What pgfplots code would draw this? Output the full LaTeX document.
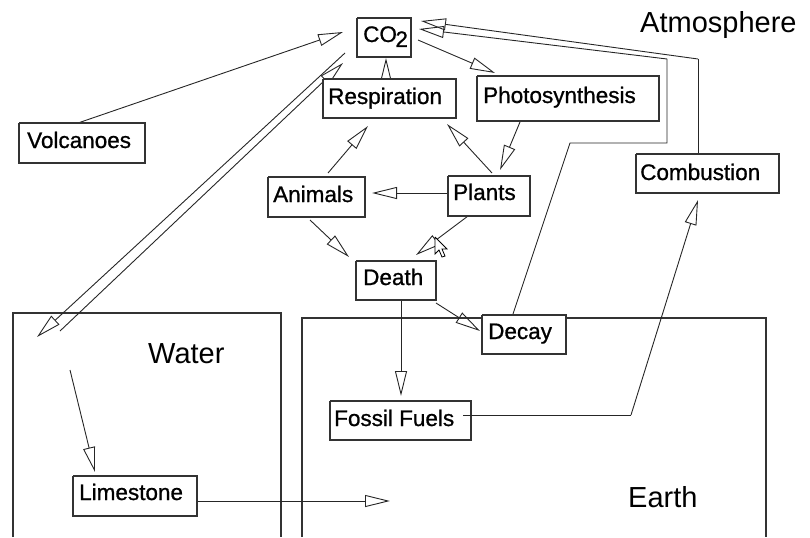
\documentclass[border=0pt]{standalone}
\usepackage{pgfplots}
\pgfplotsset{compat=1.18}
\usepackage{fontspec}
\setmainfont{Liberation Sans}
\newfontfamily\boxfont[FakeBold=0.9]{Liberation Sans}
\usetikzlibrary{arrows.meta}
\begin{document}
\begin{tikzpicture}[
  arr/.style={-{Triangle[open,length=25bp,width=12bp,line width=0.9bp]}, line width=0.9bp, black!85},
  ln/.style={line width=0.9bp, black!85},
  bx/.style={line width=1.3bp, black!80, fill=white},
  reg/.style={line width=1.2bp, black!80},
  lab/.style={anchor=base west, inner sep=0pt, font=\boxfont\fontsize{22.5bp}{26bp}\selectfont},
  big/.style={anchor=base west, inner sep=0pt, font=\fontsize{29bp}{32bp}\selectfont},
]
\begin{axis}[width=810bp, height=537bp, scale only axis,
  xmin=0, xmax=810, ymin=0, ymax=537, y dir=reverse,
  hide axis, clip=false]
% regions
\addplot[reg] coordinates {(13,537) (13,313) (281,313) (281,537)};
\addplot[reg] coordinates {(302,537) (302,318) (766,318) (766,537)};
% connector lines
\addplot[ln] coordinates {(698,154) (698,59)};
\addplot[arr] coordinates {(698,59) (421,21)};
\addplot[ln] coordinates {(513,314) (570,143) (667,143) (667,59)};
\addplot[arr] coordinates {(667,59) (419,29)};
\addplot[arr] coordinates {(78,123) (343,32)};
\addplot[arr] coordinates {(345,53) (37,337)};
\addplot[arr] coordinates {(60,331) (343,63)};
\addplot[arr] coordinates {(386,79) (386,58)};
\addplot[arr] coordinates {(418,40) (495,73)};
\addplot[arr] coordinates {(520,122) (500,170)};
\addplot[arr] coordinates {(492,173) (447,124)};
\addplot[arr] coordinates {(328,173) (368,126)};
\addplot[arr] coordinates {(448,193) (372,193)};
\addplot[arr] coordinates {(310,220) (349,257)};
\addplot[arr] coordinates {(468,216) (416,255)};
\addplot[arr] coordinates {(436,303) (480,331)};
\addplot[arr] coordinates {(401,301) (401,396)};
\addplot[arr] coordinates {(631,415) (698,200)};
\addplot[arr] coordinates {(70,370) (95,472)};
\addplot[arr] coordinates {(197,501) (390,501)};
% boxes
\addplot[bx] coordinates {(357,18) (411,18) (411,57) (357,57) (357,18)};
\addplot[bx] coordinates {(323,79) (456,79) (456,118) (323,118) (323,79)};
\addplot[bx] coordinates {(477,76) (659,76) (659,121) (477,121) (477,76)};
\addplot[bx] coordinates {(19,123) (145,123) (145,163) (19,163) (19,123)};
\addplot[bx] coordinates {(268,177) (365,177) (365,217) (268,217) (268,177)};
\addplot[bx] coordinates {(448,176) (530,176) (530,216) (448,216) (448,176)};
\addplot[bx] coordinates {(636,154) (779,154) (779,193) (636,193) (636,154)};
\addplot[bx] coordinates {(356,261) (436,261) (436,300) (356,300) (356,261)};
\addplot[bx] coordinates {(482,315) (566,315) (566,354) (482,354) (482,315)};
\addplot[bx] coordinates {(330,401) (471,401) (471,440) (330,440) (330,401)};
\addplot[bx] coordinates {(73,476) (197,476) (197,516) (73,516) (73,476)};
\addplot[ln] coordinates {(463,415) (631,415)};
% cursor
\addplot[line width=0.8bp, black, fill=white] coordinates {(435,237) (435,254) (439,250) (442,257) (445,256) (442,249) (447,249) (435,237)};
% labels
\node[lab] at (axis cs:363,42) {CO\kern-1.5bp\raisebox{-5bp}{2}};
\node[lab] at (axis cs:328,104) {Respiration};
\node[lab] at (axis cs:483,103) {Photosynthesis};
\node[lab] at (axis cs:27,148) {Volcanoes};
\node[lab] at (axis cs:273,202) {Animals};
\node[lab] at (axis cs:453,200) {Plants};
\node[lab] at (axis cs:640,180) {Combustion};
\node[lab] at (axis cs:363,285) {Death};
\node[lab] at (axis cs:488,339) {Decay};
\node[lab] at (axis cs:334,426) {Fossil Fuels};
\node[lab] at (axis cs:79,500) {Limestone};
\node[big] at (axis cs:640,33) {Atmosphere};
\node[big] at (axis cs:148,363) {Water};
\node[big] at (axis cs:628,507) {Earth};
\end{axis}
\pgfresetboundingbox
\useasboundingbox (current axis.south west) rectangle (current axis.north east);
\end{tikzpicture}
\end{document}
